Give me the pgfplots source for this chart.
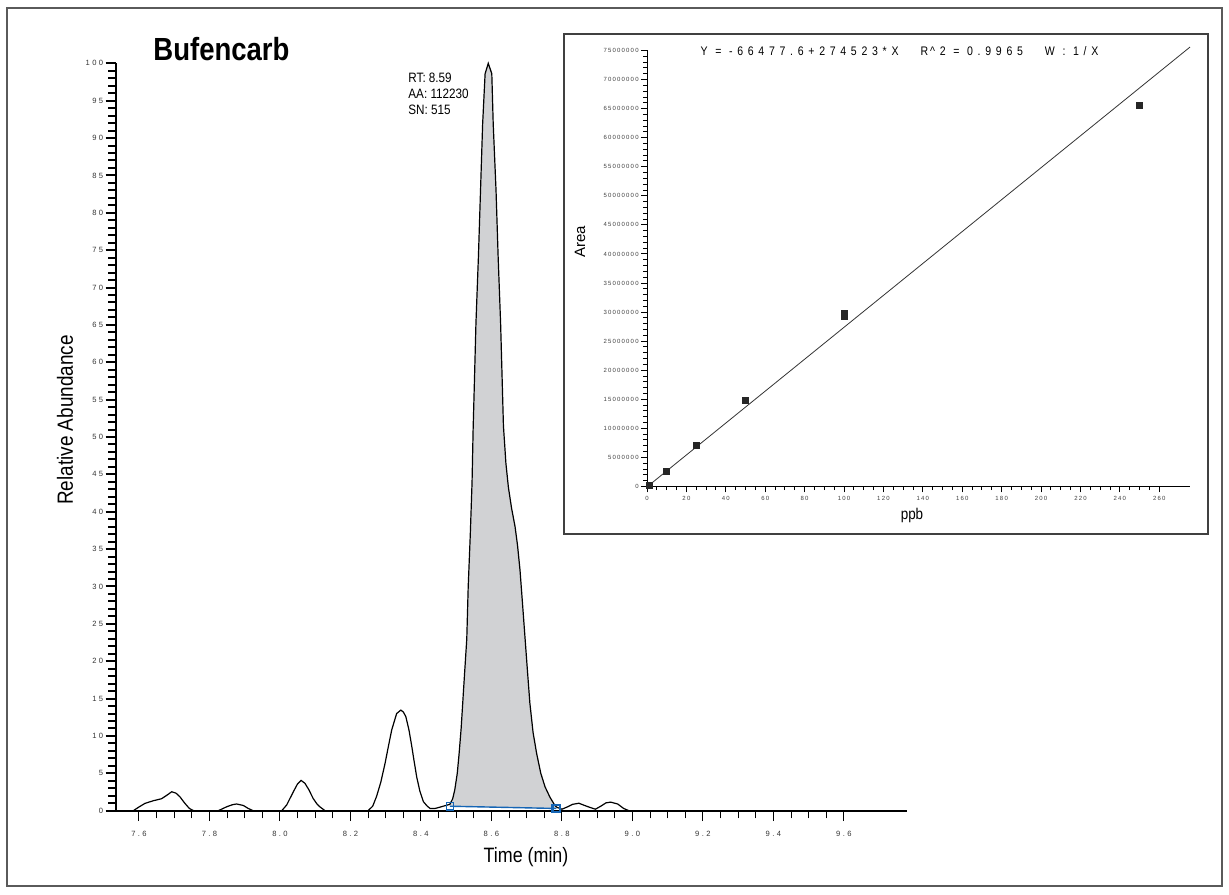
\documentclass[border=0pt]{standalone}
\usepackage{fontspec}
\usepackage{pgfplots}
\usepackage{pgfplotstable}
\pgfplotsset{compat=1.18}
\setmainfont{Liberation Sans}
\newfontfamily\condfont[FakeStretch=0.86]{Liberation Sans}
\newfontfamily\tickA[LetterSpace=32]{Liberation Sans}
\newfontfamily\tickB[LetterSpace=20]{Liberation Sans}
\newfontfamily\hdrfont[FakeStretch=0.85,LetterSpace=38]{Liberation Sans}
\definecolor{peakgray}{HTML}{D1D2D4}
\definecolor{bline}{HTML}{1565B5}
\definecolor{framegray}{HTML}{5A5A5A}

\pgfplotstableread{
t r
7.584 0
7.600 0.5
7.617 0.98
7.641 1.34
7.664 1.6
7.680 2.1
7.693 2.54
7.705 2.35
7.716 1.87
7.730 1.0
7.743 0.3
7.755 0
7.825 0
7.849 0.53
7.865 0.8
7.877 0.9
7.896 0.7
7.910 0.3
7.924 0
8.005 0
8.019 0.76
8.038 2.54
8.050 3.6
8.060 4.05
8.071 3.66
8.082 2.8
8.094 1.65
8.105 0.9
8.113 0.53
8.128 0
8.250 0
8.263 0.6
8.274 1.9
8.286 3.8
8.298 6.3
8.308 8.7
8.317 10.8
8.331 13.0
8.343 13.46
8.350 13.2
8.357 12.6
8.366 10.8
8.374 8.6
8.381 6.5
8.388 4.5
8.397 2.6
8.407 1.2
8.418 0.6
8.426 0.3
8.440 0.3
8.452 0.45
8.463 0.6
8.482 0.85
8.490 1.6
8.496 2.8
8.503 5.0
8.508 7.5
8.514 11.0
8.521 16.3
8.530 23.0
8.534 29.9
8.540 37.0
8.545 44.0
8.548 51.0
8.552 58.0
8.556 65.2
8.563 74.1
8.569 83.0
8.575 91.9
8.582 98.6
8.591 100
8.601 98.6
8.605 91.9
8.613 83.0
8.619 74.1
8.626 65.2
8.634 51.5
8.641 46.5
8.648 43.3
8.657 40.5
8.667 38.0
8.674 35.5
8.681 32.2
8.688 27.8
8.695 23.3
8.702 18.8
8.709 14.4
8.718 10.5
8.728 7.7
8.740 5.0
8.752 3.2
8.766 1.8
8.780 0.7
8.786 0.45
8.800 0.2
8.815 0.5
8.830 0.85
8.848 1.0
8.870 0.6
8.885 0.35
8.895 0.2
8.910 0.6
8.925 1.05
8.938 1.15
8.958 0.9
8.975 0.3
8.990 0
}\curve

\pgfplotstableread{
t r
8.482 0.6
8.482 0.85
8.490 1.6
8.496 2.8
8.503 5.0
8.508 7.5
8.514 11.0
8.521 16.3
8.530 23.0
8.534 29.9
8.540 37.0
8.545 44.0
8.548 51.0
8.552 58.0
8.556 65.2
8.563 74.1
8.569 83.0
8.575 91.9
8.582 98.6
8.591 100
8.601 98.6
8.605 91.9
8.613 83.0
8.619 74.1
8.626 65.2
8.634 51.5
8.641 46.5
8.648 43.3
8.657 40.5
8.667 38.0
8.674 35.5
8.681 32.2
8.688 27.8
8.695 23.3
8.702 18.8
8.709 14.4
8.718 10.5
8.728 7.7
8.740 5.0
8.752 3.2
8.766 1.8
8.780 0.7
8.786 0.45
8.784 0.3
}\peak

\pgfplotstableread{
ppb area
1 210000
10 2550000
25 7060000
50 14880000
100 29200000
100 29700000
250 65500000
}\calib

\begin{document}
\begin{tikzpicture}
\useasboundingbox (0,0) rectangle (614.5pt,447pt);

% main chromatogram
\begin{axis}[
  at={(58pt,41.65pt)}, anchor=south west,
  scale only axis, width=395.5pt, height=373.7pt,
  xmin=7.5348, xmax=9.779, ymin=0, ymax=100,
  axis x line=bottom, axis y line=left, axis line style={-},
  x axis line style={line width=1.2pt, shorten <=-5pt},
  y axis line style={line width=0.6pt},
  tick align=outside,
  xtick={7.6,7.8,8.0,8.2,8.4,8.6,8.8,9.0,9.2,9.4,9.6},
  xticklabels={7.6,7.8,8.0,8.2,8.4,8.6,8.8,9.0,9.2,9.4,9.6},
  minor x tick num=3,
  ytick={0,5,...,100}, minor y tick num=4,
  major tick length=5.2pt, minor tick length=3.8pt,
  xtick style={line width=0.5pt, black},
  ytick style={line width=1pt, black},
  tick label style={font=\tickA\fontsize{3.8}{4}\selectfont, text=black!80},
  xticklabel style={yshift=-1.3pt},
  yticklabel style={inner sep=1pt},
  /pgf/number format/assume math mode=true,
  clip=false,
]
\addplot[fill=peakgray, draw=none] table[x=t,y=r] {\peak} -- cycle;
\addplot[black, line width=0.6pt] table[x=t,y=r] {\curve};
\addplot[bline, line width=0.7pt] coordinates {(8.482,0.6) (8.784,0.3)};
\addplot[only marks, mark=square, mark size=1.8pt, bline, mark options={line width=0.7pt, fill=white}] coordinates {(8.482,0.6)};
\addplot[only marks, mark=square, mark size=1.8pt, bline, mark options={line width=1.3pt}] coordinates {(8.784,0.3)};
\end{axis}

% calibration inset
\begin{axis}[
  at={(323.5pt,203.75pt)}, anchor=south west,
  scale only axis, width=271.5pt, height=218pt,
  xmin=0, xmax=275.6, ymin=0, ymax=75000000,
  axis x line=bottom, axis y line=left, axis line style={-},
  x axis line style={line width=0.9pt},
  y axis line style={line width=0.5pt},
  tick align=outside,
  xtick={0,20,...,260}, minor x tick num=3,
  ytick={0,5000000,10000000,15000000,20000000,25000000,30000000,35000000,40000000,45000000,50000000,55000000,60000000,65000000,70000000,75000000},
  yticklabels={0,5000000,10000000,15000000,20000000,25000000,30000000,35000000,40000000,45000000,50000000,55000000,60000000,65000000,70000000,75000000},
  minor y tick num=4,
  scaled ticks=false,
  major tick length=3pt, minor tick length=1.8pt,
  xtick style={line width=0.5pt, black},
  ytick style={line width=0.5pt, black},
  tick label style={font=\tickB\fontsize{3}{3.5}\selectfont, text=black!75},
  xticklabel style={yshift=1.8pt},
  yticklabel style={inner sep=1pt},
  /pgf/number format/assume math mode=true,
  clip=false,
]
\addplot[black!80, line width=0.4pt] coordinates {(0.242,0) (275.6,75592061)};
\addplot[only marks, mark=square*, mark size=1.5pt, black!85] table[x=ppb,y=area] {\calib};
\end{axis}

\begin{scope}[x=0.5pt, y=-0.5pt, shift={(0,447pt)}]
  \draw[framegray, line width=1pt] (7,8) rectangle (1222,886);
  \draw[black!75, line width=0.75pt] (564,34) rectangle (1208,534);
  \node[anchor=base west, inner sep=0, font=\condfont\bfseries\fontsize{16}{16}\selectfont] at (153,61) {Bufencarb};
  \node[anchor=base west, inner sep=0, font=\condfont\fontsize{6.8}{7}\selectfont] at (408,82.5) {RT: 8.59};
  \node[anchor=base west, inner sep=0, font=\condfont\fontsize{6.8}{7}\selectfont] at (408,98.5) {AA: 112230};
  \node[anchor=base west, inner sep=0, font=\condfont\fontsize{6.8}{7}\selectfont] at (408,114.5) {SN: 515};
  \node[rotate=90, inner sep=0, font=\condfont\fontsize{11}{12}\selectfont] at (65,420) {Relative Abundance};
  \node[inner sep=0, font=\condfont\fontsize{10.4}{12}\selectfont] at (526,857) {Time (min)};
  \node[inner sep=0, font=\hdrfont\fontsize{6.2}{7}\selectfont] at (899.5,51) {Y = -66477.6+274523*X\hspace{11pt}R\,\textasciicircum2 = 0.9965\hspace{11pt}W : 1/X};
  \node[rotate=90, inner sep=0, font=\fontsize{7.5}{8}\selectfont] at (580,242) {Area};
  \node[inner sep=0, font=\condfont\fontsize{7.8}{9}\selectfont] at (912,515) {ppb};
\end{scope}
\end{tikzpicture}
\end{document}
